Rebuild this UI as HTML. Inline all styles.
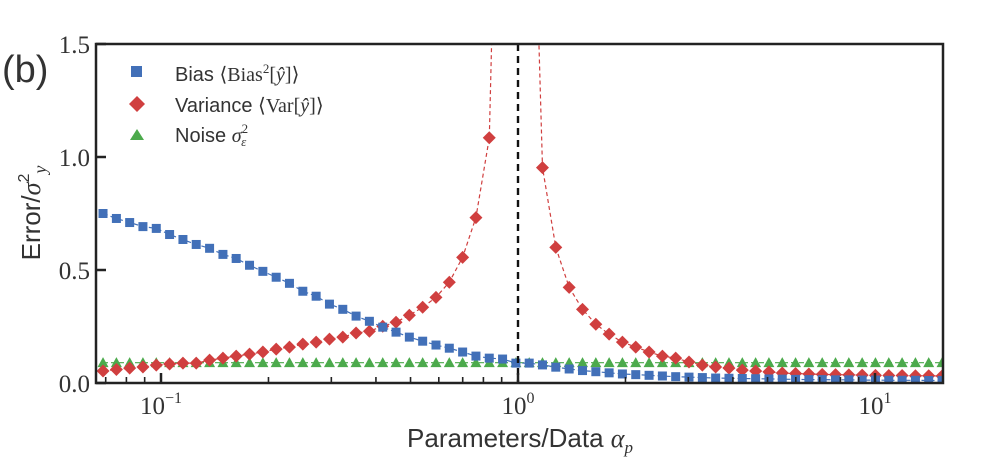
<!DOCTYPE html>
<html><head><meta charset="utf-8"><style>
body{margin:0;background:#fff;}
svg{display:block;font-family:"Liberation Sans",sans-serif;}
</style></head><body>
<svg id="chart" width="1000" height="469" viewBox="0 0 1000 469">
<defs><clipPath id="pc"><rect x="96" y="44" width="847" height="339"/></clipPath></defs>
<rect x="0" y="0" width="1000" height="469" fill="#fff"/>
<g id="marks" clip-path="url(#pc)"></g>
<g id="axes"></g>
</svg>
<script>
const alphas=[.0688,.0750,.0817,.0890,.0970,.1057,.1152,.1255,.1368,.1491,.1624,.1770,.1929,.2102,.2290,.2496,.2720,.2964,.3230,.3519,.3835,.4179,.4554,.4962,.5407,.5892,.6421,.6997,.7624,.8308,.9053,.9865,1.075,1.171,1.276,1.391,1.516,1.652,1.800,1.961,2.137,2.329,2.538,2.765,3.013,3.284,3.578,3.899,4.249,4.630,5.045,5.498,5.991,6.528,7.114,7.752,8.447,9.205,10.03,10.93,11.91,12.98,14.14,15.41];
const biasVals=[.75,.728,.71,.692,.684,.657,.635,.613,.596,.569,.551,.521,.494,.468,.441,.406,.384,.349,.326,.296,.273,.247,.225,.203,.185,.168,.154,.137,.119,.11,.106,.088,.088,.08,.07,.062,.055,.05,.045,.04,.037,.034,.031,.028,.026,.024,.022,.021,.02,.019,.018,.017,.016,.015,.015,.014,.014,.013,.013,.012,.012,.012,.011,.011];
const varVals=[.053,.06,.066,.071,.079,.084,.088,.088,.101,.11,.119,.128,.137,.15,.159,.172,.181,.194,.203,.221,.229,.251,.269,.3,.335,.379,.446,.556,.732,1.085,3.5,80,3.0,.953,.6,.423,.326,.26,.216,.181,.159,.137,.119,.11,.093,.079,.071,.066,.057,.053,.049,.044,.042,.04,.038,.037,.036,.035,.034,.033,.033,.032,.032,.031];
const noiseVals=[.09,.09,.09,.09,.09,.09,.09,.09,.09,.09,.09,.09,.09,.09,.09,.09,.09,.09,.09,.09,.09,.09,.09,.09,.09,.09,.09,.09,.09,.09,.09,.09,.09,.09,.09,.09,.09,.09,.09,.09,.09,.09,.09,.09,.09,.09,.09,.09,.09,.09,.09,.09,.09,.09,.09,.09,.09,.09,.09,.09,.09,.09,.09,.09];
const yTicks=[0,0.5,1.0,1.5];
const yTickLabels=["0.0","0.5","1.0","1.5"];
const xMajor=[0.1,1,10];
const xMajorLabels=["10","10","10"];
const xMajorExp=["−1","0","1"];

const NS="http://www.w3.org/2000/svg";
const X0=96,X1=943,Y0=383,Y1=44;
const xs=a=>161+357*(Math.log10(a)+1);
const ys=v=>Y0-(v/1.5)*(Y0-Y1);
const marks=document.getElementById('marks'),axes=document.getElementById('axes');
function mk(tag,at,parent){const e=document.createElementNS(NS,tag);for(const k in at)e.setAttribute(k,at[k]);parent.appendChild(e);return e;}

function series(vals,color,shape,name,dash,lw){
  const pts=vals.map((v,i)=>xs(alphas[i]).toFixed(1)+','+ys(Math.min(v,20)).toFixed(1)).join(' ');
  const line=mk('polyline',{points:pts,fill:'none',stroke:color,'stroke-width':lw,'stroke-dasharray':dash},marks);
  
  
  vals.forEach((v,i)=>{
    const cx=xs(alphas[i]),cy=ys(v);let m;
    if(shape==='sq')m=mk('rect',{x:cx-4.5,y:cy-4.5,width:9,height:9,fill:color},marks);
    else if(shape==='dia')m=mk('polygon',{points:`${cx},${cy-6.5} ${cx+6.5},${cy} ${cx},${cy+6.5} ${cx-6.5},${cy}`,fill:color},marks);
    else m=mk('polygon',{points:`${cx},${cy-5.5} ${cx+5.5},${cy+4.5} ${cx-5.5},${cy+4.5}`,fill:color},marks);
    
    
  });
}
series(noiseVals,'#4caa4c','tri','noise','5,3',1.2);
series(varVals,'#d03f3f','dia','variance','4,3',1.2);
series(biasVals,'#4270b8','sq','bias','5,3',1.2);

const vl=mk('line',{x1:xs(1),x2:xs(1),y1:Y1,y2:Y0,stroke:'#111','stroke-width':2.4,'stroke-dasharray':'7,5'},marks);



const frame=mk('rect',{x:X0,y:Y1,width:X1-X0,height:Y0-Y1,fill:'none',stroke:'#222','stroke-width':2.5},axes);



yTicks.forEach((t,i)=>{
  const y=ys(t);
  mk('line',{x1:X0,x2:X0+10,y1:y,y2:y,stroke:'#222','stroke-width':2.5},axes);
  const tl=mk('text',{x:X0-6,y:y+9,'text-anchor':'end','font-family':'Liberation Serif, serif','font-size':25,fill:'#333'},axes);
  tl.textContent=yTickLabels[i];
  
  
});
for(let d=-2;d<=1;d++)for(let k=1;k<10;k++){
  const a=k*Math.pow(10,d),x=xs(a);
  if(x<X0||x>X1)continue;
  mk('line',{x1:x,x2:x,y1:Y0,y2:Y0-(k===1?10:6),stroke:'#222','stroke-width':k===1?2.5:1.6},axes);
}
xMajor.forEach((a,i)=>{
  const t=mk('text',{x:xs(a),y:414,'text-anchor':'middle','font-family':'Liberation Serif, serif','font-size':25,fill:'#333'},axes);
  t.textContent=xMajorLabels[i];
  const s=mk('tspan',{dy:-11,'font-size':16},t);s.textContent=xMajorExp[i];
  
  
});
</script>
<svg style="position:absolute;left:0;top:0" width="1000" height="469">
<text x="2" y="82" font-size="38" fill="#333">(b)</text>
<text transform="translate(40,213) rotate(-90)" text-anchor="middle" font-size="26" fill="#333">Error/<tspan font-family="Liberation Serif, serif" font-style="italic">σ</tspan><tspan font-size="16" dy="-11">2</tspan><tspan font-family="Liberation Serif, serif" font-style="italic" font-size="18" dy="17">y</tspan></text>
<text x="520" y="447" text-anchor="middle" font-size="26" fill="#333">Parameters/Data <tspan font-family="Liberation Serif, serif" font-style="italic">α</tspan><tspan font-family="Liberation Serif, serif" font-style="italic" font-size="17" dy="6">p</tspan></text>
<g>
<rect x="131" y="66" width="11" height="11" fill="#4270b8"/>
<text x="175" y="81" font-size="20" fill="#333">Bias ⟨<tspan font-family="Liberation Serif, serif">Bias</tspan><tspan font-family="Liberation Serif, serif" font-size="13" dy="-8">2</tspan><tspan font-family="Liberation Serif, serif" dy="8">[<tspan font-style="italic">ŷ</tspan>]</tspan>⟩</text>
<polygon points="137,96 145,104 137,112 129,104" fill="#d03f3f"/>
<text x="175" y="112" font-size="20" fill="#333">Variance ⟨<tspan font-family="Liberation Serif, serif">Var[<tspan font-style="italic">ŷ</tspan>]</tspan>⟩</text>
<polygon points="137,129 144,140 130,140" fill="#4caa4c"/>
<text x="175" y="142" font-size="20" fill="#333">Noise <tspan font-family="Liberation Serif, serif" font-style="italic">σ</tspan><tspan font-family="Liberation Serif, serif" font-size="13" dy="-9">2</tspan><tspan font-family="Liberation Serif, serif" font-style="italic" font-size="13" dx="-7" dy="13">ε</tspan></text>
</g>
</svg>
</body></html>
